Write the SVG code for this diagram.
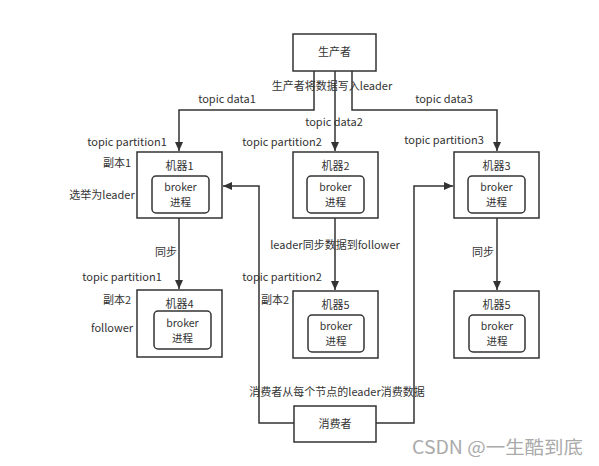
<svg xmlns="http://www.w3.org/2000/svg" width="599" height="466" viewBox="0 0 599 466">
<style>
text{font-family:"Noto Sans CJK SC","Liberation Sans",sans-serif;font-size:11px;fill:#333;text-anchor:middle}
.box{fill:#fff;stroke:#333;stroke-width:1.5}
.inner{fill:#fff;stroke:#333;stroke-width:1.5}
.ln{fill:none;stroke:#333;stroke-width:1.5}
.bk{font-size:10.5px}
.wm{font-size:18px;fill:#aaa;text-anchor:start}
</style>
<defs>
<marker id="ah" markerWidth="10" markerHeight="10" refX="9" refY="5" orient="auto" markerUnits="userSpaceOnUse">
<path d="M0,1 L9,5 L0,9 z" fill="#333"/>
</marker>
</defs>
<rect width="599" height="466" fill="#fff"/>
<g id="connectors">
<polyline class="ln" points="314,71 314,110 179,110 179,151" marker-end="url(#ah)"/>
<polyline class="ln" points="335,71 335,151" marker-end="url(#ah)"/>
<polyline class="ln" points="352,71 352,110 497,110 497,151" marker-end="url(#ah)"/>
<polyline class="ln" points="179,218 179,289" marker-end="url(#ah)"/>
<polyline class="ln" points="335,218 335,290" marker-end="url(#ah)"/>
<polyline class="ln" points="497,218 497,290" marker-end="url(#ah)"/>
<polyline class="ln" points="294,423 259,423 259,186 223,186" marker-end="url(#ah)"/>
<polyline class="ln" points="376,423 414,423 414,186 453,186" marker-end="url(#ah)"/>
<text x="332" y="90">生产者将数据写入leader</text>
<text x="227" y="103">topic data1</text>
<text x="334" y="126">topic data2</text>
<text x="444" y="103">topic data3</text>
<text x="335" y="249">leader同步数据到follower</text>
<text x="166" y="256">同步</text>
<text x="483" y="256">同步</text>
<text x="337" y="396">消费者从每个节点的leader消费数据</text>
</g>
<g id="producer">
<rect class="box" x="293" y="34" width="83" height="37"/>
<text x="334.5" y="56">生产者</text>
</g>
<g id="machine1">
<rect class="box" x="137" y="152" width="85" height="66"/>
<text x="179.5" y="170">机器1</text>
<rect class="inner" x="152" y="176" width="57" height="37" rx="4"/>
<text class="bk" x="180.5" y="191">broker</text>
<text class="bk" x="180.5" y="206">进程</text>
<text x="127" y="146">topic partition1</text>
<text x="117" y="167">副本1</text>
<text x="102" y="199">选举为leader</text>
</g>
<g id="machine2">
<rect class="box" x="293" y="152" width="85" height="66"/>
<text x="335.5" y="170">机器2</text>
<rect class="inner" x="307" y="176" width="57" height="37" rx="4"/>
<text class="bk" x="335.5" y="191">broker</text>
<text class="bk" x="335.5" y="206">进程</text>
<text x="282" y="146">topic partition2</text>
</g>
<g id="machine3">
<rect class="box" x="454" y="152" width="85" height="66"/>
<text x="496.5" y="170">机器3</text>
<rect class="inner" x="468" y="176" width="57" height="37" rx="4"/>
<text class="bk" x="496.5" y="191">broker</text>
<text class="bk" x="496.5" y="206">进程</text>
<text x="444" y="144">topic partition3</text>
</g>
<g id="machine4">
<rect class="box" x="137" y="290" width="85" height="67"/>
<text x="179.5" y="308">机器4</text>
<rect class="inner" x="154" y="311" width="57" height="38" rx="4"/>
<text class="bk" x="182.5" y="327">broker</text>
<text class="bk" x="182.5" y="342">进程</text>
<text x="122" y="281">topic partition1</text>
<text x="117" y="304">副本2</text>
<text x="112" y="332">follower</text>
</g>
<g id="machine5a">
<rect class="box" x="293" y="291" width="85" height="67"/>
<text x="335.5" y="309">机器5</text>
<rect class="inner" x="308" y="315" width="56" height="37" rx="4"/>
<text class="bk" x="336" y="330">broker</text>
<text class="bk" x="336" y="345">进程</text>
<text x="282" y="281">topic partition2</text>
<text x="275" y="304">副本2</text>
</g>
<g id="machine5b">
<rect class="box" x="454" y="291" width="85" height="67"/>
<text x="496.5" y="309">机器5</text>
<rect class="inner" x="469" y="315" width="56" height="37" rx="4"/>
<text class="bk" x="497" y="330">broker</text>
<text class="bk" x="497" y="345">进程</text>
</g>
<g id="consumer">
<rect class="box" x="294" y="406" width="82" height="36"/>
<text x="335" y="428">消费者</text>
</g>
<text class="wm" x="412" y="454" textLength="171" lengthAdjust="spacingAndGlyphs">CSDN @一生酷到底</text>
</svg>
